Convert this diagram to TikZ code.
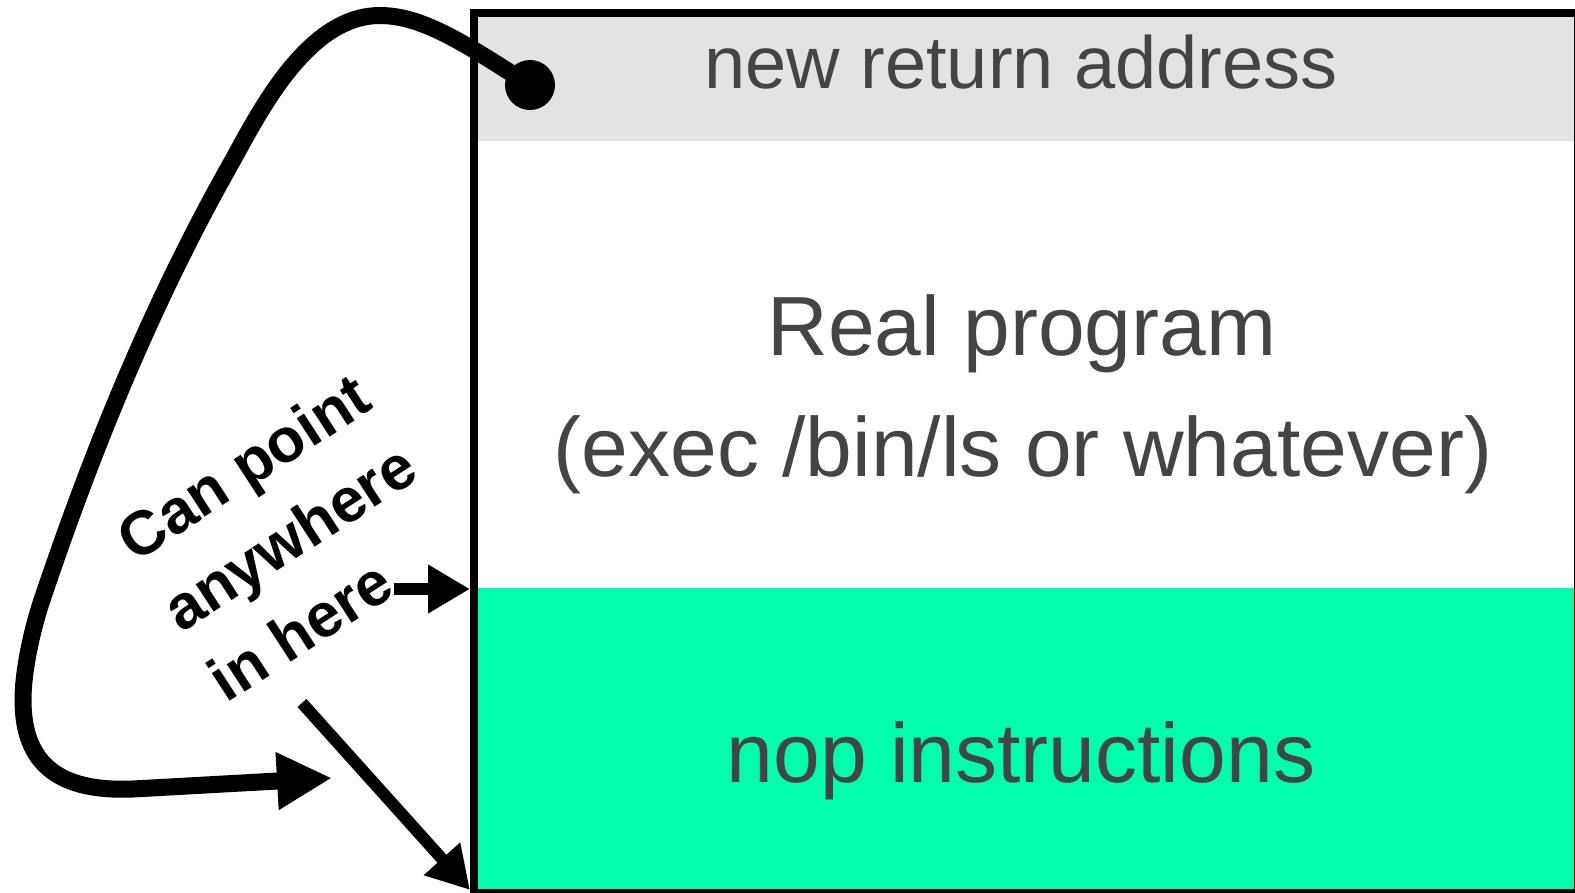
\documentclass[tikz,border=0pt]{standalone}
\usepackage{fontspec}
\setmainfont{Liberation Sans}
\usetikzlibrary{arrows.meta}
\definecolor{retgray}{HTML}{E3E3E3}
\definecolor{nopgreen}{HTML}{00FDAD}
\definecolor{txtgray}{HTML}{444444}
\tikzset{
  bigtext/.style={text=txtgray, inner sep=0pt, anchor=base, font=\fontsize{84}{100}\selectfont},
  rettext/.style={text=txtgray, inner sep=0pt, anchor=base, font=\fontsize{74}{88}\selectfont},
  curvearrow/.style={line width=17, -{Triangle[length=55pt,width=54pt]}},
  shortarrow/.style={line width=12, -{Triangle[length=42pt,width=46pt]}},
  labeltext/.style={font=\fontsize{62}{84}\selectfont\bfseries, align=left, rotate=33, inner sep=0pt, anchor=west}
}
\begin{document}
\begin{tikzpicture}[x=1pt,y=-1pt]
\useasboundingbox (0,0) rectangle (1575,892);
\fill[white] (0,0) rectangle (1575,892);
% regions
\fill[retgray] (474,13) rectangle (1578,140.5);
\fill[nopgreen] (474,588) rectangle (1578,893);
\draw[line width=8] (474,13) rectangle (1577.5,893);
% texts
\node[rettext] (ret) at (1021,88) {new return address};
\node[bigtext] (real1) at (1022,355) {Real program};
\node[bigtext] (real2) at (1023,476) {(exec /bin/ls or whatever)};
\node[bigtext] (nop) at (1021,782) {nop instructions};
% label
\node[labeltext] (lbl) at (169,615) {Can point\\anywhere\\in here};
% dot
\node[circle, fill=black, minimum size=50pt, inner sep=0pt] (dot) at (530,85) {};
% arrow end points
\coordinate (s1) at (394,589);
\coordinate (t1) at (470,589);
\coordinate (s2) at (302,703);
\coordinate (t2) at (470,890);
\coordinate (t3) at (332,778);
\draw[shortarrow] (s1) -- (t1);
\draw[shortarrow] (s2) -- (t2);
\draw[curvearrow] (dot.center)
  .. controls (471,48) and (425,15.5) .. (380,15.5)
  .. controls (305,15.5) and (256,119.2) .. (229,167)
  .. controls (145.7,314.9) and (86.8,467) .. (42,600)
  .. controls (32.4,628.5) and (23,670) .. (23,700)
  .. controls (23,765) and (60,792) .. (133,789)
  -- (t3);
\end{tikzpicture}
\end{document}
